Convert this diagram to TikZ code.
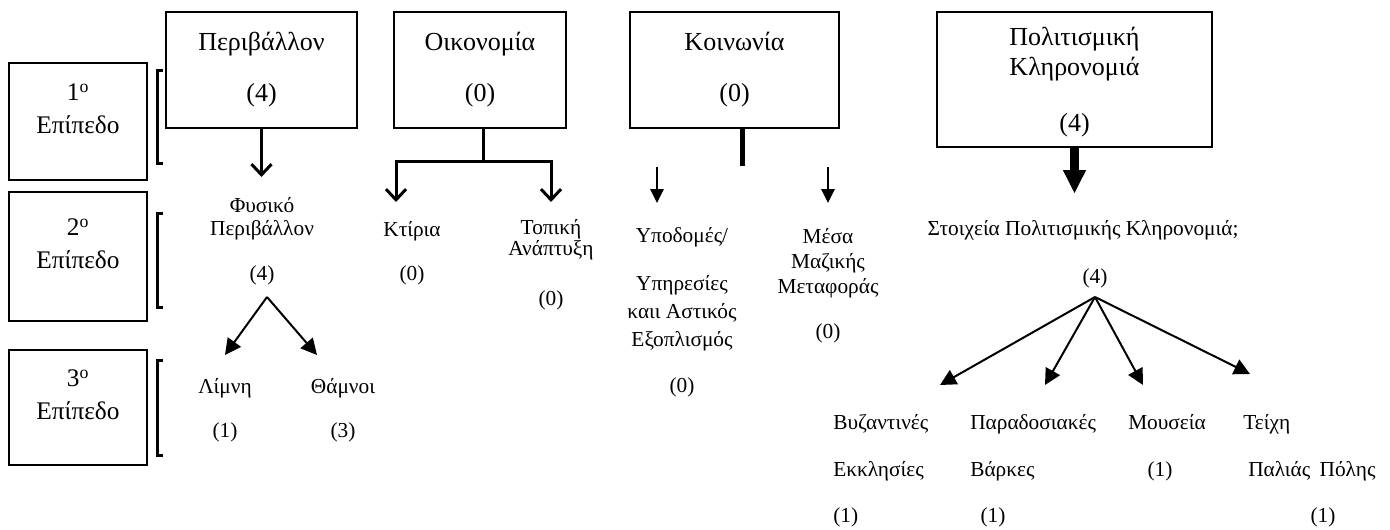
\documentclass[tikz,border=0pt]{standalone}
\usepackage{fontspec}
\setmainfont{Liberation Serif}
\usetikzlibrary{arrows.meta,positioning}

\begin{document}
\begin{tikzpicture}[x=0.75pt,y=-0.75pt,
    box/.style={draw,line width=1.5pt,align=center,inner sep=0pt,
      font=\fontsize{19.5}{23}\selectfont},
    lvl box/.style={box,minimum width=103.5pt,font=\fontsize{19}{24.75}\selectfont},
    lbl/.style={align=center,inner sep=0pt,font=\fontsize{16}{19.2}\selectfont},
    left lbl/.style={lbl,anchor=base west},
    barb arrow/.style={-{Straight Barb[length=8pt,width=15pt]},line width=2.25pt},
    tri arrow/.style={-{Triangle[length=12pt,width=12pt]},line width=1.5pt},
    small tri/.style={-{Triangle[length=10.5pt,width=10pt]},line width=1.5pt},
    bracket/.style={line width=2.25pt}]

  \useasboundingbox (0,0) rectangle (1390,529);

  % levels
  \node[lvl box,minimum height=87.75pt] (lvl1) at (78,121.5) {1\textsuperscript{o}\\Επίπεδο\\[-6pt]\mbox{}};
  \node[lvl box,minimum height=96.75pt] (lvl2) at (78,256.5) {2\textsuperscript{o}\\Επίπεδο\\[-6pt]\mbox{}};
  \node[lvl box,minimum height=86.25pt] (lvl3) at (78,407.5) {3\textsuperscript{o}\\Επίπεδο\\[-6pt]\mbox{}};
  \foreach \t/\b in {70/163,213/307,360/455}
    \draw[bracket] (163,\t) -- (157,\t) -- (157,\b) -- (163,\b);

  % first level
  \node[box,minimum width=143.25pt,minimum height=87pt] (env) at (261.5,70) {Περιβάλλον\\[15.25pt](4)};
  \node[box,minimum width=129pt,minimum height=87pt] (eco) at (480,70) {Οικονομία\\[15.25pt](0)};
  \node[box,minimum width=156.75pt,minimum height=87pt] (soc) at (734.5,70) {Κοινωνία\\[15.25pt](0)};
  \node[box,minimum width=206.25pt,minimum height=101.25pt] (cul) at (1074.5,79.5)
    {\rule{0pt}{18pt}Πολιτισμική\\[-0.5pt]Κληρονομιά\\[18.75pt](4)};

  % second level
  \node[lbl] (nat) at (262,218.5) {Φυσικό\\[-2pt]Περιβάλλον};
  \node[lbl] (natN) at (262,275) {(4)};
  \node[lbl] (bld) at (412,231) {Κτίρια};
  \node[lbl] (bldN) at (412,275) {(0)};
  \node[lbl] (dev) at (551,240) {Τοπική\\[-3.2pt]Ανάπτυξη};
  \node[lbl] (devN) at (551,300) {(0)};
  \node[lbl] (infra) at (682,237) {Υποδομές/};
  \node[lbl] (infraSvc) at (682,313) {Υπηρεσίες\\[1.8pt]καιι Αστικός\\[1.8pt]Εξοπλισμός};
  \node[lbl] (infraN) at (682,387) {(0)};
  \node[lbl] (trans) at (828,263) {Μέσα\\[-0.45pt]Μαζικής\\[-0.45pt]Μεταφοράς};
  \node[lbl] (transN) at (828,333) {(0)};
  \node[lbl] (her) at (1083,230) {Στοιχεία Πολιτισμικής Κληρονομιά;};
  \node[lbl] (herN) at (1095,278) {(4)};

  % third level
  \node[lbl] (lake) at (225,388) {Λίμνη};
  \node[lbl] (lakeN) at (225,432) {(1)};
  \node[lbl] (bush) at (343,388) {Θάμνοι};
  \node[lbl] (bushN) at (343,432) {(3)};
  \node[left lbl] (byz) at (833,429) {Βυζαντινές};
  \node[left lbl] (byzB) at (833,476) {Εκκλησίες};
  \node[left lbl] (byzN) at (833,522) {(1)};
  \node[left lbl] (boat) at (970,429) {Παραδοσιακές};
  \node[left lbl] (boatB) at (970,476) {Βάρκες};
  \node[lbl] (boatN) at (993,517) {(1)};
  \node[left lbl] (mus) at (1128,429) {Μουσεία};
  \node[lbl] (musN) at (1160,471) {(1)};
  \node[left lbl] (wall) at (1243,429) {Τείχη};
  \node[left lbl] (wallB) at (1248,476) {Παλιάς\hspace{7pt}Πόλης};
  \node[lbl] (wallN) at (1323,517) {(1)};

  % connector ends
  \coordinate (natTop) at (261.5,177);
  \coordinate (ecoFork) at (483,161);
  \coordinate (bldTop) at (396,202);
  \coordinate (devTop) at (551,202);
  \coordinate (socStub) at (742,166);
  \coordinate (infraTail) at (657,167);
  \coordinate (infraTop) at (657,203);
  \coordinate (transTail) at (828,167);
  \coordinate (transTop) at (828,203);
  \coordinate (herTop) at (1074.5,193);
  \coordinate (natFork) at (267,297);
  \coordinate (lakeTop) at (225,355);
  \coordinate (bushTop) at (317,355);
  \coordinate (herFork) at (1095,297);
  \coordinate (byzTop) at (940,385);
  \coordinate (boatTop) at (1045,385);
  \coordinate (musTop) at (1143,385);
  \coordinate (wallTop) at (1250,374);

  \draw[barb arrow] (env) -- (natTop);
  \draw[line width=2.25pt] (eco.south -| ecoFork) -- (ecoFork);
  \draw[barb arrow] (ecoFork) -| (bldTop);
  \draw[barb arrow] (ecoFork) -| (devTop);
  \draw[line width=3.75pt] (soc.south -| socStub) -- (socStub);
  \draw[small tri] (infraTail) -- (infraTop);
  \draw[small tri] (transTail) -- (transTop);
  \draw[-{Triangle[length=17.25pt,width=17.25pt,line width=1pt]},line width=6.75pt] (cul) -- (herTop);
  \foreach \tip in {lakeTop,bushTop}
    \draw[tri arrow] (natFork) -- (\tip);
  \foreach \tip in {byzTop,boatTop,musTop,wallTop}
    \draw[tri arrow] (herFork) -- (\tip);

\end{tikzpicture}
\end{document}
